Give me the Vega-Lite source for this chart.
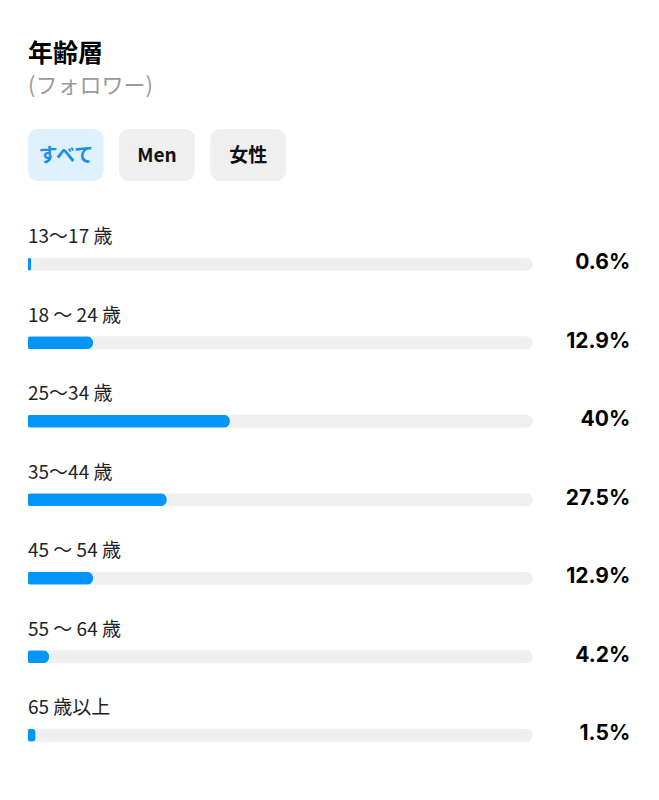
{
  "$schema": "https://vega.github.io/schema/vega-lite/v6.json",
  "background": "white",
  "padding": {"left": 28, "top": 42, "right": 0, "bottom": 0},
  "config": {
    "view": {"stroke": null},
    "font": "Noto Sans CJK JP",
    "concat": {"spacing": 44}
  },
  "title": {
    "text": "年齢層",
    "subtitle": "(フォロワー)",
    "anchor": "start",
    "fontSize": 25,
    "fontWeight": "bold",
    "color": "#000000",
    "subtitleFontSize": 22,
    "subtitleColor": "#9a9a9a",
    "subtitlePadding": 9,
    "offset": 32,
    "font": "Noto Sans CJK JP",
    "subtitleFont": "Noto Sans CJK JP"
  },
  "datasets": {
    "buttons": [
      {"label": "すべて", "selected": true},
      {"label": "Men", "selected": false},
      {"label": "女性", "selected": false}
    ],
    "ages": [
      {"age": "13〜17 歳", "pct": 0.6, "text": "0.6%"},
      {"age": "18 〜 24 歳", "pct": 12.9, "text": "12.9%"},
      {"age": "25〜34 歳", "pct": 40, "text": "40%"},
      {"age": "35〜44 歳", "pct": 27.5, "text": "27.5%"},
      {"age": "45 〜 54 歳", "pct": 12.9, "text": "12.9%"},
      {"age": "55 〜 64 歳", "pct": 4.2, "text": "4.2%"},
      {"age": "65 歳以上", "pct": 1.5, "text": "1.5%"}
    ]
  },
  "vconcat": [
    {
      "width": 258,
      "height": 52,
      "data": {"name": "buttons"},
      "encoding": {
        "x": {
          "field": "label",
          "type": "nominal",
          "sort": null,
          "axis": null,
          "scale": {"paddingInner": 0.17, "paddingOuter": 0}
        }
      },
      "layer": [
        {
          "mark": {"type": "rect", "cornerRadius": 10},
          "encoding": {
            "color": {
              "condition": {"test": "datum.selected", "value": "#e0f1fe"},
              "value": "#efefef"
            }
          }
        },
        {
          "mark": {"type": "text", "fontSize": 19, "fontWeight": "bold", "baseline": "middle", "align": "center", "dy": 1},
          "encoding": {
            "text": {"field": "label"},
            "color": {
              "condition": {"test": "datum.selected", "value": "#1a8fe8"},
              "value": "#111111"
            }
          }
        }
      ]
    },
    {
      "width": 631,
      "height": 549.5,
      "data": {"name": "ages"},
      "encoding": {
        "y": {
          "field": "age",
          "type": "nominal",
          "sort": null,
          "axis": null,
          "scale": {"paddingInner": 0, "paddingOuter": 0}
        }
      },
      "layer": [
        {
          "mark": {"type": "bar", "size": 13, "cornerRadius": 6.5, "color": "#efefef"},
          "encoding": {
            "x": {"datum": 0, "type": "quantitative", "scale": {"domain": [0, 125], "nice": false}, "axis": null},
            "x2": {"datum": 100}
          }
        },
        {
          "mark": {"type": "bar", "size": 13, "cornerRadius": 2, "cornerRadiusEnd": 6.5, "color": "#0095f6"},
          "encoding": {
            "x": {"field": "pct", "type": "quantitative"}
          }
        },
        {
          "mark": {"type": "text", "align": "left", "baseline": "middle", "dy": -27, "fontSize": 19, "color": "#222222"},
          "encoding": {
            "x": {"datum": 0, "type": "quantitative"},
            "text": {"field": "age"}
          }
        },
        {
          "mark": {"type": "text", "align": "right", "baseline": "middle", "dy": -1, "fontSize": 21, "fontWeight": "bold", "font": "Inter", "color": "#000000"},
          "encoding": {
            "x": {"datum": 119.3, "type": "quantitative"},
            "text": {"field": "text"}
          }
        }
      ]
    }
  ]
}
